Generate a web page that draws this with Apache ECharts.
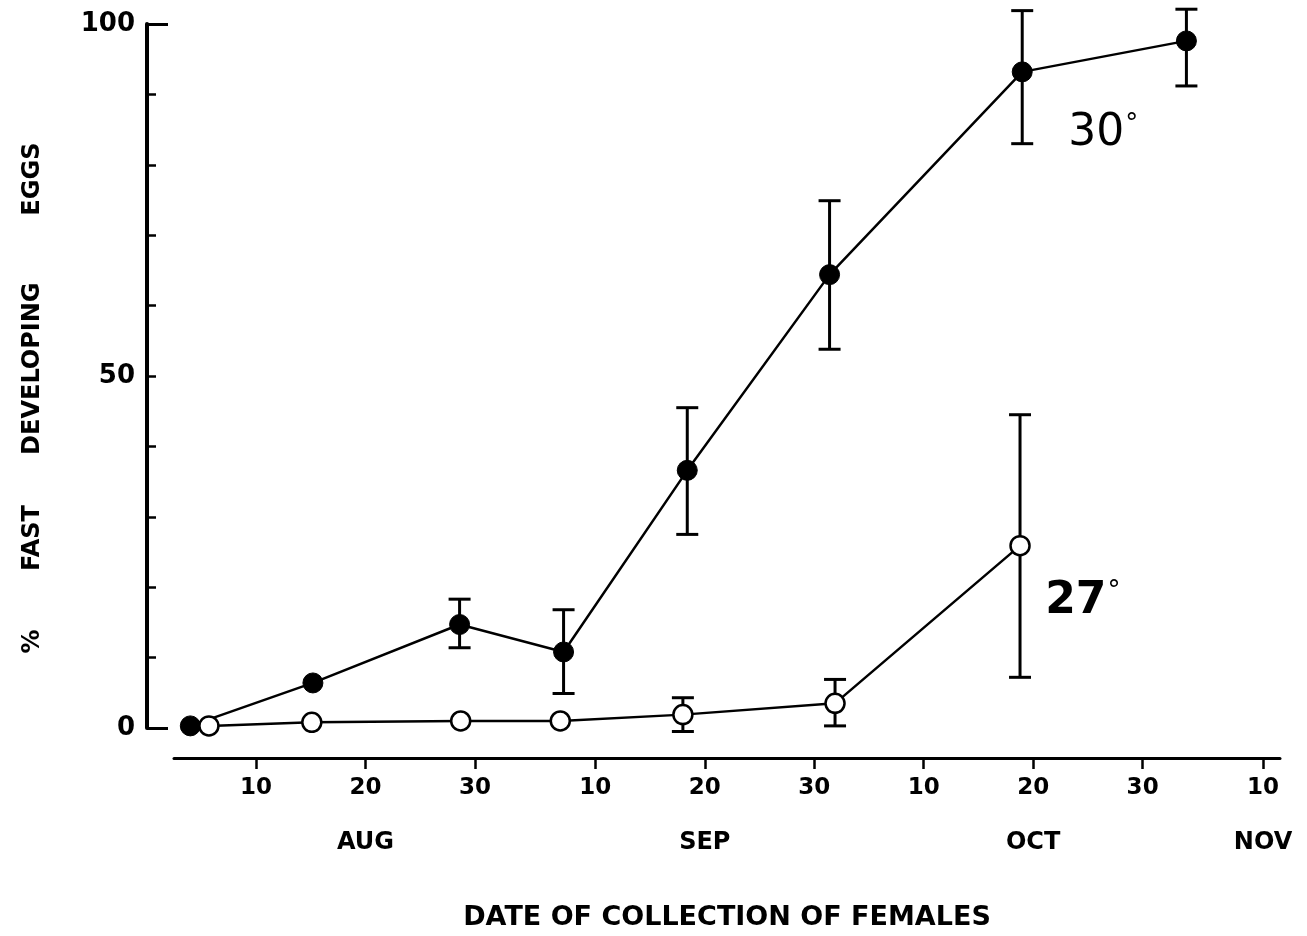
<!DOCTYPE html>
<html>
<head>
<meta charset="utf-8">
<script src="https://cdn.jsdelivr.net/npm/echarts@6/dist/echarts.min.js"></script>
<style>
html,body{margin:0;padding:0;background:#fff;}
#chart{width:1307px;height:936px;}
</style>
</head>
<body>
<div id="chart"></div>
<script>
// x values are days counted from Aug 1 (Aug 1 = 0)
const dayTicks = [9, 19, 29, 40, 50, 60, 70, 80, 90, 101];
const dayLabels = ['10', '20', '30', '10', '20', '30', '10', '20', '30', '10'];
const monthPos = [19, 50, 80, 101];
const monthNames = ['AUG', 'SEP', 'OCT', 'NOV'];
const yLabelValues = [0, 50, 100];

// 30 degree series (filled circles)
const days30 = [3.0, 14.2, 27.6, 37.1, 48.4, 61.4, 79.0, 94.0];
const pct30  = [0.3, 6.4, 14.7, 10.8, 36.6, 64.4, 93.2, 97.6];
const hi30   = [null, null, 18.3, 16.8, 45.5, 74.9, 101.9, 102.1];
const lo30   = [null, null, 11.4, 4.9, 27.5, 53.8, 83.0, 91.2];

// 27 degree series (open circles)
const days27 = [4.7, 14.1, 27.7, 36.8, 48.0, 61.9, 78.8];
const pct27  = [0.3, 0.8, 1.0, 1.0, 1.9, 3.5, 25.9];
const hi27   = [null, null, null, null, 4.3, 6.9, 44.5];
const lo27   = [null, null, null, null, -0.5, 0.3, 7.2];

const labels = [
  { num: '30', x: 83.2, y: 84.4, bold: false },
  { num: '27', x: 81.1, y: 18.0, bold: true }
];

const FONT = '"DejaVu Sans", Verdana, sans-serif';

function pairs(xs, ys) { return xs.map((x, i) => [x, ys[i]]); }
function errData(xs, hi, lo) {
  const out = [];
  xs.forEach((x, i) => { if (hi[i] != null) out.push([x, lo[i], hi[i]]); });
  return out;
}
function errRender(params, api) {
  const x = api.value(0);
  const pLo = api.coord([x, api.value(1)]);
  const pHi = api.coord([x, api.value(2)]);
  const cap = 11;
  const st = { stroke: '#000', lineWidth: 3 };
  return {
    type: 'group',
    children: [
      { type: 'line', shape: { x1: pLo[0], y1: pLo[1], x2: pHi[0], y2: pHi[1] }, style: st },
      { type: 'line', shape: { x1: pHi[0] - cap, y1: pHi[1], x2: pHi[0] + cap, y2: pHi[1] }, style: st },
      { type: 'line', shape: { x1: pLo[0] - cap, y1: pLo[1], x2: pLo[0] + cap, y2: pLo[1] }, style: st }
    ]
  };
}
function tempLabel(l) {
  return {
    coord: [l.x, l.y],
    label: {
      show: true, position: 'right', distance: 0,
      formatter: '{n|' + l.num + '}{d|°}',
      rich: {
        n: { fontSize: 44, fontWeight: l.bold ? 'bold' : 'normal', color: '#000', fontFamily: FONT },
        d: { fontSize: 26, fontWeight: 'normal', color: '#000', fontFamily: FONT, verticalAlign: 'top', padding: [0, 0, 0, 1] }
      }
    }
  };
}

const chart = echarts.init(document.getElementById('chart'));
chart.setOption({
  backgroundColor: '#fff',
  animation: false,
  textStyle: { fontFamily: FONT, color: '#000' },
  grid: { left: 174, right: 27, top: 24, bottom: 208 },
  xAxis: [
    {
      type: 'value', min: 1.51, max: 102.55, offset: 30, position: 'bottom',
      splitLine: { show: false },
      axisLine: { show: true, onZero: false, lineStyle: { color: '#000', width: 3 } },
      axisTick: { show: true, inside: false, length: 11, customValues: dayTicks, lineStyle: { color: '#000', width: 2.5 } },
      axisLabel: {
        customValues: dayTicks, margin: 19, color: '#000', fontFamily: FONT,
        fontSize: 23, fontWeight: 'bold',
        formatter: v => { const i = dayTicks.indexOf(v); return i >= 0 ? dayLabels[i] : ''; }
      },
      name: 'DATE OF COLLECTION OF FEMALES', nameLocation: 'middle', nameGap: 146,
      nameTextStyle: { fontSize: 27, fontWeight: 'bold', color: '#000', fontFamily: FONT }
    },
    {
      type: 'value', min: 1.51, max: 102.55, offset: 30, position: 'bottom',
      splitLine: { show: false },
      axisLine: { show: false, onZero: false },
      axisTick: { show: false },
      axisLabel: {
        customValues: monthPos, margin: 73, color: '#000', fontFamily: FONT,
        fontSize: 24, fontWeight: 'bold',
        formatter: v => { const i = monthPos.indexOf(v); return i >= 0 ? monthNames[i] : ''; }
      }
    }
  ],
  yAxis: [
    {
      type: 'value', min: 0, max: 100, interval: 10, offset: 27, position: 'left',
      splitLine: { show: false },
      axisLine: { show: true, onZero: false, lineStyle: { color: '#000', width: 4 } },
      axisTick: { show: true, inside: true, length: 9, lineStyle: { color: '#000', width: 2.5 } },
      axisLabel: {
        customValues: yLabelValues, margin: 12, color: '#000', fontFamily: FONT,
        fontSize: 26, fontWeight: 'bold'
      },
      name: '%       FAST      DEVELOPING        EGGS', nameLocation: 'middle', nameGap: 102,
      nameRotate: 90,
      nameTextStyle: { fontSize: 24, fontWeight: 'bold', color: '#000', fontFamily: FONT, padding: [0, 44, 0, 0] }
    },
    {
      type: 'value', min: 0, max: 100, offset: 27, position: 'left',
      splitLine: { show: false },
      axisLine: { show: false, onZero: false },
      axisTick: { show: true, inside: true, length: 21, customValues: [0, 100], lineStyle: { color: '#000', width: 3 } },
      axisLabel: { show: false }
    }
  ],
  series: [
    {
      type: 'custom', name: 'err30', renderItem: errRender, data: errData(days30, hi30, lo30),
      encode: { x: 0, y: [1, 2] }, z: 1, clip: false, silent: true
    },
    {
      type: 'custom', name: 'err27', renderItem: errRender, data: errData(days27, hi27, lo27),
      encode: { x: 0, y: [1, 2] }, z: 1, clip: false, silent: true
    },
    {
      type: 'line', name: '30°', data: pairs(days30, pct30), z: 3, clip: false,
      symbol: 'circle', symbolSize: 20,
      lineStyle: { color: '#000', width: 2.5 },
      itemStyle: { color: '#000', borderColor: '#000', borderWidth: 1 },
      markPoint: {
        symbol: 'circle', symbolSize: 0,
        data: labels.filter(l => !l.bold).map(tempLabel)
      }
    },
    {
      type: 'line', name: '27°', data: pairs(days27, pct27), z: 4, clip: false,
      symbol: 'circle', symbolSize: 19,
      lineStyle: { color: '#000', width: 2.5 },
      itemStyle: { color: '#fff', borderColor: '#000', borderWidth: 2.5 },
      markPoint: {
        symbol: 'circle', symbolSize: 0,
        data: labels.filter(l => l.bold).map(tempLabel)
      }
    }
  ]
});
</script>
</body>
</html>
